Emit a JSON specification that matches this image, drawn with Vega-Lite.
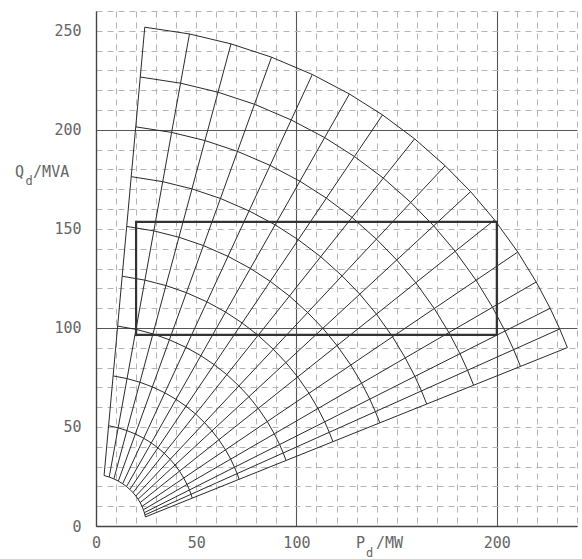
{
  "$schema": "https://vega.github.io/schema/vega-lite/v6.json",
  "width": 481,
  "height": 515,
  "autosize": {"type": "none"},
  "padding": {"left": 96, "top": 11, "right": 5, "bottom": 33},
  "background": "white",
  "config": {
    "view": {"stroke": null},
    "axis": {"labelFont": "DejaVu Sans Mono", "labelFontSize": 15, "labelColor": "#666", "ticks": false, "labelOverlap": false, "labelFlush": false, "domainColor": "#444", "domainWidth": 1.3}
  },
  "datasets": {
    "fan": [
      {"i":0,"j":0,"x":4.03,"y":25.48},{"i":1,"j":0,"x":6.29,"y":50.63},{"i":2,"j":0,"x":8.54,"y":75.78},{"i":3,"j":0,"x":10.8,"y":100.93},{"i":4,"j":0,"x":13.06,"y":126.08},{"i":5,"j":0,"x":15.32,"y":151.23},{"i":6,"j":0,"x":17.57,"y":176.37},{"i":7,"j":0,"x":19.83,"y":201.52},{"i":8,"j":0,"x":22.09,"y":226.67},{"i":9,"j":0,"x":24.34,"y":251.82},
      {"i":0,"j":1,"x":6.6,"y":24.71},{"i":1,"j":1,"x":11.05,"y":49.57},{"i":2,"j":1,"x":15.5,"y":74.42},{"i":3,"j":1,"x":19.95,"y":99.28},{"i":4,"j":1,"x":24.4,"y":124.13},{"i":5,"j":1,"x":28.85,"y":148.99},{"i":6,"j":1,"x":33.29,"y":173.85},{"i":7,"j":1,"x":37.74,"y":198.7},{"i":8,"j":1,"x":42.19,"y":223.56},{"i":9,"j":1,"x":46.64,"y":248.41},
      {"i":0,"j":2,"x":8.93,"y":23.78},{"i":1,"j":2,"x":15.42,"y":48.18},{"i":2,"j":2,"x":21.91,"y":72.58},{"i":3,"j":2,"x":28.41,"y":96.99},{"i":4,"j":2,"x":34.9,"y":121.39},{"i":5,"j":2,"x":41.39,"y":145.79},{"i":6,"j":2,"x":47.88,"y":170.19},{"i":7,"j":2,"x":54.37,"y":194.59},{"i":8,"j":2,"x":60.87,"y":219.0},{"i":9,"j":2,"x":67.36,"y":243.4},
      {"i":0,"j":3,"x":11.14,"y":22.67},{"i":1,"j":3,"x":19.63,"y":46.45},{"i":2,"j":3,"x":28.12,"y":70.23},{"i":3,"j":3,"x":36.62,"y":94.01},{"i":4,"j":3,"x":45.11,"y":117.79},{"i":5,"j":3,"x":53.6,"y":141.57},{"i":6,"j":3,"x":62.09,"y":165.35},{"i":7,"j":3,"x":70.58,"y":189.13},{"i":8,"j":3,"x":79.08,"y":212.91},{"i":9,"j":3,"x":87.57,"y":236.69},
      {"i":0,"j":4,"x":13.31,"y":21.34},{"i":1,"j":4,"x":23.82,"y":44.3},{"i":2,"j":4,"x":34.33,"y":67.25},{"i":3,"j":4,"x":44.85,"y":90.21},{"i":4,"j":4,"x":55.36,"y":113.17},{"i":5,"j":4,"x":65.87,"y":136.13},{"i":6,"j":4,"x":76.38,"y":159.08},{"i":7,"j":4,"x":86.89,"y":182.04},{"i":8,"j":4,"x":97.41,"y":205.0},{"i":9,"j":4,"x":107.92,"y":227.95},
      {"i":0,"j":5,"x":15.23,"y":19.92},{"i":1,"j":5,"x":27.59,"y":41.94},{"i":2,"j":5,"x":39.94,"y":63.96},{"i":3,"j":5,"x":52.3,"y":85.98},{"i":4,"j":5,"x":64.66,"y":108.0},{"i":5,"j":5,"x":77.02,"y":130.03},{"i":6,"j":5,"x":89.37,"y":152.05},{"i":7,"j":5,"x":101.73,"y":174.07},{"i":8,"j":5,"x":114.09,"y":196.09},{"i":9,"j":5,"x":126.44,"y":218.11},
      {"i":0,"j":6,"x":16.88,"y":18.47},{"i":1,"j":6,"x":30.89,"y":39.48},{"i":2,"j":6,"x":44.9,"y":60.49},{"i":3,"j":6,"x":58.91,"y":81.49},{"i":4,"j":6,"x":72.92,"y":102.5},{"i":5,"j":6,"x":86.93,"y":123.51},{"i":6,"j":6,"x":100.93,"y":144.52},{"i":7,"j":6,"x":114.94,"y":165.53},{"i":8,"j":6,"x":128.95,"y":186.53},{"i":9,"j":6,"x":142.96,"y":207.54},
      {"i":0,"j":7,"x":18.44,"y":16.88},{"i":1,"j":7,"x":34.06,"y":36.72},{"i":2,"j":7,"x":49.67,"y":56.57},{"i":3,"j":7,"x":65.29,"y":76.41},{"i":4,"j":7,"x":80.9,"y":96.26},{"i":5,"j":7,"x":96.52,"y":116.1},{"i":6,"j":7,"x":112.13,"y":135.94},{"i":7,"j":7,"x":127.75,"y":155.79},{"i":8,"j":7,"x":143.36,"y":175.63},{"i":9,"j":7,"x":158.98,"y":195.48},
      {"i":0,"j":8,"x":19.86,"y":15.14},{"i":1,"j":8,"x":37.01,"y":33.67},{"i":2,"j":8,"x":54.16,"y":52.19},{"i":3,"j":8,"x":71.31,"y":70.72},{"i":4,"j":8,"x":88.46,"y":89.24},{"i":5,"j":8,"x":105.61,"y":107.77},{"i":6,"j":8,"x":122.76,"y":126.3},{"i":7,"j":8,"x":139.91,"y":144.82},{"i":8,"j":8,"x":157.06,"y":163.35},{"i":9,"j":8,"x":174.21,"y":181.87},
      {"i":0,"j":9,"x":20.99,"y":13.53},{"i":1,"j":9,"x":39.43,"y":30.78},{"i":2,"j":9,"x":57.87,"y":48.04},{"i":3,"j":9,"x":76.3,"y":65.29},{"i":4,"j":9,"x":94.74,"y":82.54},{"i":5,"j":9,"x":113.18,"y":99.8},{"i":6,"j":9,"x":131.62,"y":117.05},{"i":7,"j":9,"x":150.06,"y":134.3},{"i":8,"j":9,"x":168.49,"y":151.55},{"i":9,"j":9,"x":186.93,"y":168.81},
      {"i":0,"j":10,"x":22.02,"y":11.82},{"i":1,"j":10,"x":41.67,"y":27.68},{"i":2,"j":10,"x":61.32,"y":43.53},{"i":3,"j":10,"x":80.97,"y":59.39},{"i":4,"j":10,"x":100.62,"y":75.25},{"i":5,"j":10,"x":120.27,"y":91.1},{"i":6,"j":10,"x":139.92,"y":106.96},{"i":7,"j":10,"x":159.57,"y":122.82},{"i":8,"j":10,"x":179.22,"y":138.68},{"i":9,"j":10,"x":198.87,"y":154.53},
      {"i":0,"j":11,"x":22.95,"y":9.93},{"i":1,"j":11,"x":43.78,"y":24.2},{"i":2,"j":11,"x":64.62,"y":38.46},{"i":3,"j":11,"x":85.45,"y":52.73},{"i":4,"j":11,"x":106.29,"y":67.0},{"i":5,"j":11,"x":127.12,"y":81.26},{"i":6,"j":11,"x":147.95,"y":95.53},{"i":7,"j":11,"x":168.79,"y":109.79},{"i":8,"j":11,"x":189.62,"y":124.06},{"i":9,"j":11,"x":210.46,"y":138.32},
      {"i":0,"j":12,"x":23.64,"y":8.21},{"i":1,"j":12,"x":45.42,"y":20.99},{"i":2,"j":12,"x":67.2,"y":33.76},{"i":3,"j":12,"x":88.97,"y":46.54},{"i":4,"j":12,"x":110.75,"y":59.32},{"i":5,"j":12,"x":132.53,"y":72.09},{"i":6,"j":12,"x":154.31,"y":84.87},{"i":7,"j":12,"x":176.09,"y":97.65},{"i":8,"j":12,"x":197.86,"y":110.43},{"i":9,"j":12,"x":219.64,"y":123.2},
      {"i":0,"j":13,"x":24.12,"y":6.73},{"i":1,"j":13,"x":46.62,"y":18.19},{"i":2,"j":13,"x":69.11,"y":29.66},{"i":3,"j":13,"x":91.61,"y":41.12},{"i":4,"j":13,"x":114.11,"y":52.59},{"i":5,"j":13,"x":136.61,"y":64.05},{"i":6,"j":13,"x":159.11,"y":75.51},{"i":7,"j":13,"x":181.61,"y":86.98},{"i":8,"j":13,"x":204.1,"y":98.44},{"i":9,"j":13,"x":226.6,"y":109.91},
      {"i":0,"j":14,"x":24.42,"y":5.59},{"i":1,"j":14,"x":47.42,"y":16.02},{"i":2,"j":14,"x":70.41,"y":26.45},{"i":3,"j":14,"x":93.41,"y":36.88},{"i":4,"j":14,"x":116.4,"y":47.31},{"i":5,"j":14,"x":139.4,"y":57.75},{"i":6,"j":14,"x":162.39,"y":68.18},{"i":7,"j":14,"x":185.39,"y":78.61},{"i":8,"j":14,"x":208.38,"y":89.04},{"i":9,"j":14,"x":231.38,"y":99.47},
      {"i":0,"j":15,"x":24.65,"y":4.58},{"i":1,"j":15,"x":48.04,"y":14.08},{"i":2,"j":15,"x":71.44,"y":23.58},{"i":3,"j":15,"x":94.83,"y":33.08},{"i":4,"j":15,"x":118.23,"y":42.58},{"i":5,"j":15,"x":141.62,"y":52.08},{"i":6,"j":15,"x":165.01,"y":61.57},{"i":7,"j":15,"x":188.41,"y":71.07},{"i":8,"j":15,"x":211.8,"y":80.57},{"i":9,"j":15,"x":235.2,"y":90.07}
    ],
    "box": [{"x": 20, "xe": 200, "y": 96.5, "ye": 153.5}],
    "labels": [
      {"x": -40.4, "y": 178.8, "t": "Q", "s": "big"},
      {"x": -35.2, "y": 174.2, "t": "d", "s": "small"},
      {"x": -31.4, "y": 178.8, "t": "/MVA", "s": "big"},
      {"x": 129.7, "y": -8.6, "t": "P", "s": "big"},
      {"x": 134.7, "y": -13.4, "t": "d", "s": "small"},
      {"x": 139.7, "y": -8.6, "t": "/MW", "s": "big"}
    ]
  },
  "encoding": {
    "x": {"field": "x", "type": "quantitative", "scale": {"domain": [0, 240], "nice": false, "zero": false},
      "axis": {"title": null, "values": [0,10,20,30,40,50,60,70,80,90,100,110,120,130,140,150,160,170,180,190,200,210,220,230,240],
        "labelExpr": "indexof([0,50,100,200], datum.value) >= 0 ? datum.label : ''", "labelPadding": 9, "labelBaseline": "top",
        "grid": true, "gridColor": {"condition": {"test": "datum.value % 100 == 0", "value": "#555"}, "value": "#b4b4b4"},
        "gridDash": {"condition": {"test": "datum.value % 100 == 0", "value": [1, 0]}, "value": [6, 5]},
        "gridWidth": {"condition": {"test": "datum.value % 100 == 0", "value": 1.1}, "value": 1}}},
    "y": {"field": "y", "type": "quantitative", "scale": {"domain": [0, 260], "nice": false, "zero": false},
      "axis": {"title": null, "values": [0,10,20,30,40,50,60,70,80,90,100,110,120,130,140,150,160,170,180,190,200,210,220,230,240,250,260],
        "labelExpr": "datum.value % 50 == 0 ? datum.label : ''", "labelPadding": 15,
        "grid": true, "gridColor": {"condition": {"test": "datum.value % 100 == 0", "value": "#555"}, "value": "#b4b4b4"},
        "gridDash": {"condition": {"test": "datum.value % 100 == 0", "value": [1, 0]}, "value": [6, 5]},
        "gridWidth": {"condition": {"test": "datum.value % 100 == 0", "value": 1.1}, "value": 1}}}
  },
  "layer": [
    {
      "data": {"name": "fan"},
      "mark": {"type": "line", "color": "#2a2a2a", "strokeWidth": 1},
      "encoding": {
        "detail": {"field": "i", "type": "nominal"},
        "order": {"field": "j", "type": "quantitative"}
      }
    },
    {
      "data": {"name": "fan"},
      "mark": {"type": "line", "color": "#2a2a2a", "strokeWidth": 1},
      "encoding": {
        "detail": {"field": "j", "type": "nominal"},
        "order": {"field": "i", "type": "quantitative"}
      }
    },
    {
      "data": {"name": "box"},
      "mark": {"type": "rect", "fill": "white", "fillOpacity": 0, "stroke": "#333", "strokeWidth": 2.2},
      "encoding": {
        "x2": {"field": "xe"},
        "y2": {"field": "ye"}
      }
    },
    {
      "data": {"name": "labels"},
      "mark": {"type": "text", "align": "left", "baseline": "middle", "font": "DejaVu Sans Mono", "color": "#666"},
      "encoding": {
        "text": {"field": "t"},
        "size": {"field": "s", "type": "nominal", "scale": {"domain": ["big", "small"], "range": [15, 12]}, "legend": null}
      }
    }
  ]
}
